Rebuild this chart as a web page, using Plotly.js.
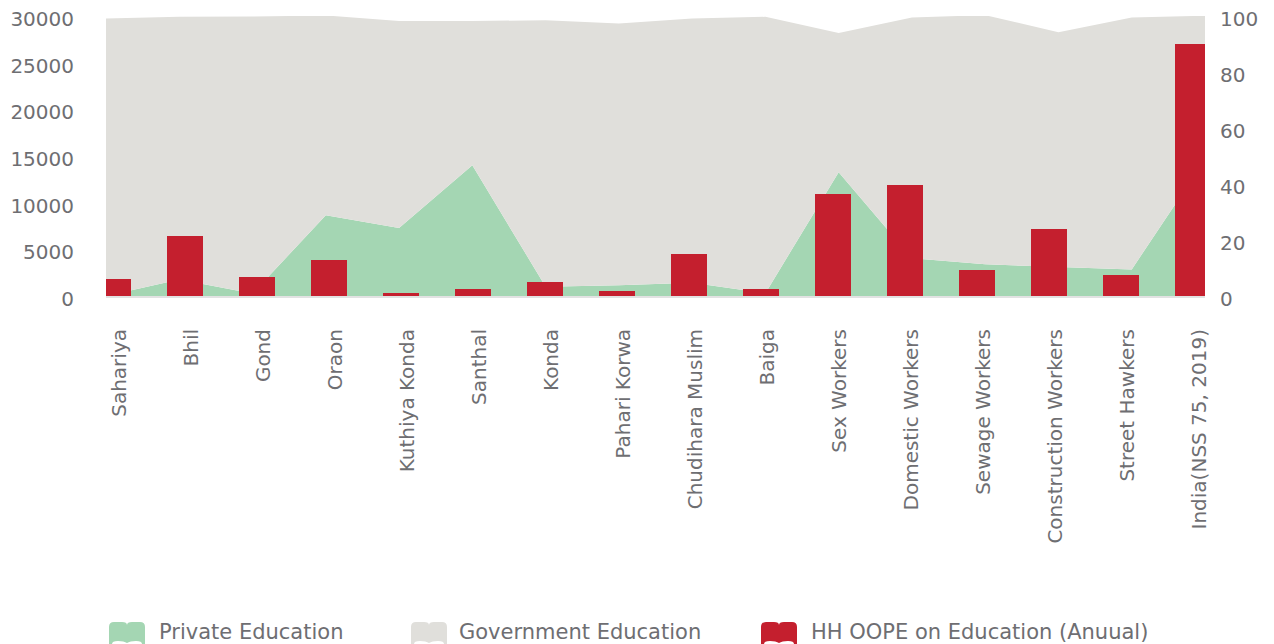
<!DOCTYPE html>
<html>
<head>
<meta charset="utf-8">
<script src="https://cdn.plot.ly/plotly-3.0.1.min.js"></script>
<style>
  html, body { margin: 0; padding: 0; background: #ffffff; }
  #chart { width: 1274px; height: 644px; }
</style>
</head>
<body>
<div id="chart"></div>
<script>
// ---- data ----
const categories = [
  "Sahariya", "Bhil", "Gond", "Oraon", "Kuthiya Konda", "Santhal", "Konda",
  "Pahari Korwa", "Chudihara Muslim", "Baiga", "Sex Workers", "Domestic Workers",
  "Sewage Workers", "Construction Workers", "Street Hawkers", "India(NSS 75, 2019)"
];
// share of students in private / government education (%), right axis
const privateEducation = [0, 5.9, 0.9, 28.8, 24.3, 46.7, 3.3, 3.8, 4.7, 1.0, 44.2, 13.5, 11.3, 10.3, 9.5, 48.7];
const governmentEducation = [99.1, 93.8, 98.9, 71.4, 73.9, 51.5, 95.2, 93.5, 94.4, 98.7, 49.7, 86.0, 89.0, 83.9, 90.0, 51.4];
// household out-of-pocket expenditure on education (annual), left axis
const hhOope = [1800, 6400, 2000, 3900, 300, 800, 1500, 500, 4500, 800, 10900, 11900, 2750, 7150, 2300, 27000];

const seriesNames = ["Private Education", "Government Education", "HH OOPE on Education (Anuual)"];
const seriesColors = ["#a4d6b3", "#e0dfdb", "#c41f2e"];

// ---- layout geometry ----
const W = 1274, H = 644;
const plotL = 106, plotR = 1205, plotT = 16, plotB = 296;
const pw = plotR - plotL, ph = plotB - plotT;
const FONT = "DejaVu Sans";
const TXT = "#6e6e72";

const traces = [
  {
    type: "scatter", mode: "lines", name: seriesNames[0],
    x: categories, y: privateEducation, xaxis: "x", yaxis: "y",
    stackgroup: "edu", line: { width: 0, color: seriesColors[0] },
    fillcolor: seriesColors[0], showlegend: false, hoverinfo: "x+y+name"
  },
  {
    type: "scatter", mode: "lines", name: seriesNames[1],
    x: categories, y: governmentEducation, xaxis: "x", yaxis: "y",
    stackgroup: "edu", line: { width: 0, color: seriesColors[1] },
    fillcolor: seriesColors[1], showlegend: false, hoverinfo: "x+y+name"
  },
  {
    type: "bar", name: seriesNames[2],
    x: categories, y: hhOope, xaxis: "x2", yaxis: "y2",
    width: 0.5, marker: { color: seriesColors[2], line: { width: 0 } },
    showlegend: false
  }
];

// legend built from series names/colours (book-shaped icons)
const legendX = [109, 411, 761];
const legendTextX = [157, 457, 809];
const legendY = 632, iconTop = 622;
const bookPath = "M0,-30 L0,-5 Q0,0 5,0 L13,0 Q18,0 18,-3 Q18,0 23,0 L31,0 Q36,0 36,-5 L36,-30 Z";
const bookFoot = "M3,-22 Q3,-19 9,-19 Q15,-19 18,-21 Q21,-19 27,-19 Q33,-19 33,-22 L33,-24 L3,-24 Z";
const shapes = [];
seriesNames.forEach((n, i) => {
  const base = {
    type: "path", xref: "paper", yref: "paper",
    xsizemode: "pixel", ysizemode: "pixel",
    xanchor: (legendX[i] - plotL) / pw, yanchor: (plotB - iconTop) / ph,
    line: { width: 0 }, layer: "above"
  };
  shapes.push(Object.assign({}, base, { path: bookPath, fillcolor: seriesColors[i] }));
  shapes.push(Object.assign({}, base, { path: bookFoot, fillcolor: "#ffffff" }));
});
const annotations = seriesNames.map((n, i) => ({
  xref: "paper", yref: "paper", x: (legendTextX[i] - plotL) / pw, y: (plotB - legendY) / ph,
  xanchor: "left", yanchor: "middle", showarrow: false, text: n,
  font: { family: FONT, size: 21, color: TXT }
}));

const layout = {
  width: W, height: H,
  margin: { l: plotL, r: W - plotR, t: plotT, b: H - plotB, pad: 0 },
  paper_bgcolor: "#ffffff", plot_bgcolor: "rgba(0,0,0,0)",
  showlegend: false,
  font: { family: FONT, color: TXT },
  xaxis: {
    type: "category", range: [0, categories.length - 1], visible: false,
    fixedrange: true
  },
  yaxis: {
    range: [0, 100], side: "right", tickvals: [0, 20, 40, 60, 80, 100],
    showgrid: false, zeroline: false, showline: false, ticks: "",
    ticklabelstandoff: 14, ticklabelshift: 3,
    tickfont: { family: FONT, size: 20, color: TXT }
  },
  xaxis2: {
    type: "category", overlaying: "x", anchor: "y2", side: "bottom",
    range: [-7 / 72, (plotR - 113) / 72], dtick: 1,
    showgrid: false, zeroline: false, ticks: "",
    showline: true, linecolor: "#e2e2e2", linewidth: 2,
    tickangle: -90, ticklabelstandoff: 23, ticklabelshift: 6,
    tickfont: { family: FONT, size: 20, color: TXT }
  },
  yaxis2: {
    range: [0, 30000], overlaying: "y", side: "left", anchor: "x2",
    tickvals: [0, 5000, 10000, 15000, 20000, 25000, 30000], tickformat: "d",
    showgrid: false, zeroline: false, showline: false, ticks: "",
    ticklabelstandoff: 31, ticklabelshift: 3,
    tickfont: { family: FONT, size: 20, color: TXT }
  },
  shapes: shapes,
  annotations: annotations,
  bargap: 0
};

Plotly.newPlot("chart", traces, layout, { displayModeBar: false, staticPlot: true });
</script>
</body>
</html>
